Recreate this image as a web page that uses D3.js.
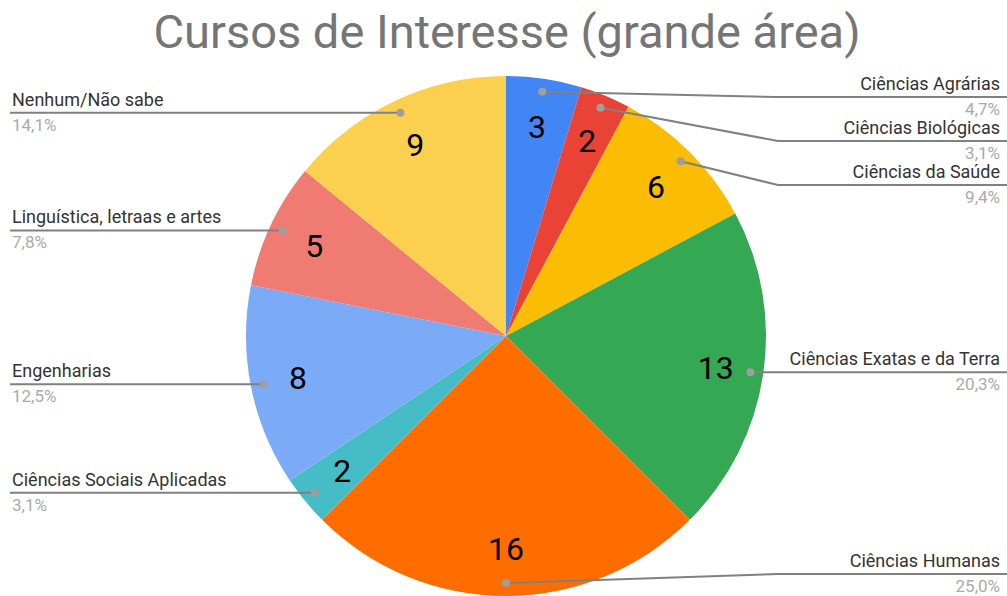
<!DOCTYPE html>
<html>
<head>
<meta charset="utf-8">
<script src="https://cdn.jsdelivr.net/npm/d3@7"></script>
<style>
  body { margin: 0; background: #fff; }
  svg { display: block; font-family: Roboto, Arial, sans-serif; }
</style>
</head>
<body>
<div id="chart"></div>
<script>
// data
var categories = ["Ciências Agrárias", "Ciências Biológicas", "Ciências da Saúde",
  "Ciências Exatas e da Terra", "Ciências Humanas", "Ciências Sociais Aplicadas",
  "Engenharias", "Linguística, letraas e artes", "Nenhum/Não sabe"];
var values = [3, 2, 6, 13, 16, 2, 8, 5, 9];
var colors = ["#4285f4", "#ea4335", "#fbbc04", "#34a853", "#ff6d01", "#46bdc6",
  "#7baaf7", "#f07b72", "#fcd04f"];

var width = 1007, height = 596;
var cx = 506, cy = 336, radius = 260;

var data = categories.map(function(c, i) { return {name: c, value: values[i]}; });
var total = d3.sum(values);
var pctFmt = function(v) { return (v / total * 100).toFixed(1).replace(".", ",") + "%"; };

var svg = d3.select("#chart").append("svg")
  .attr("width", width).attr("height", height);

svg.append("text")
  .attr("x", cx + 1).attr("y", 48)
  .attr("text-anchor", "middle")
  .style("font-size", "47px")
  .style("fill", "#757575")
  .text("Cursos de Interesse (grande área)");

var color = d3.scaleOrdinal().domain(categories).range(colors);

var pie = d3.pie().sort(null).value(function(d) { return d.value; });
var arcs = pie(data);

var arc = d3.arc().innerRadius(0).outerRadius(radius);
var dotArc = d3.arc().innerRadius(247).outerRadius(247);
var valArc = d3.arc().innerRadius(212).outerRadius(212);

var g = svg.append("g").attr("transform", "translate(" + cx + "," + cy + ")");

g.selectAll("path.slice")
  .data(arcs)
  .join("path")
  .attr("class", "slice")
  .attr("d", arc)
  .attr("fill", function(d) { return color(d.data.name); });

g.selectAll("text.val")
  .data(arcs)
  .join("text")
  .attr("class", "val")
  .attr("transform", function(d) { return "translate(" + valArc.centroid(d) + ")"; })
  .attr("text-anchor", "middle")
  .attr("dy", "0.36em")
  .style("font-size", "32px")
  .style("fill", "#000")
  .text(function(d) { return d.data.value; });

// label layout: each side stacked with a min gap
var labels = arcs.map(function(d) {
  var mid = (d.startAngle + d.endAngle) / 2;
  var p = dotArc.centroid(d);
  return {d: d, right: mid <= Math.PI, dx: p[0] + cx, dy: p[1] + cy, y: p[1] + cy};
});
var gap = 44, minY = 97, maxY = 574;
[true, false].forEach(function(side) {
  var list = labels.filter(function(l) { return l.right === side; })
    .sort(function(a, b) { return a.dy - b.dy; });
  var prev = -Infinity;
  list.forEach(function(l) {
    l.y = Math.max(l.dy, minY, prev + gap);
    prev = l.y;
  });
  var next = Infinity;
  list.slice().reverse().forEach(function(l) {
    l.y = Math.min(l.y, maxY, next - gap);
    next = l.y;
  });
});

var lab = svg.append("g").selectAll("g.lab").data(labels).join("g").attr("class", "lab");

lab.append("polyline")
  .attr("fill", "none")
  .attr("stroke", "#808080")
  .attr("stroke-width", 2)
  .attr("points", function(l) {
    var elbowX = l.right ? 778 : 234;
    var endX = l.right ? width : 10;
    return [[l.dx, l.dy], [elbowX, l.y], [endX, l.y]];
  });

lab.append("circle")
  .attr("cx", function(l) { return l.dx; })
  .attr("cy", function(l) { return l.dy; })
  .attr("r", 4)
  .attr("fill", "#9e9e9e");

lab.append("text")
  .attr("x", function(l) { return l.right ? 1000 : 12; })
  .attr("y", function(l) { return l.y - 7; })
  .attr("text-anchor", function(l) { return l.right ? "end" : "start"; })
  .style("font-size", "18px")
  .style("fill", "#333")
  .text(function(l) { return l.d.data.name; });

lab.append("text")
  .attr("x", function(l) { return l.right ? 1000 : 12; })
  .attr("y", function(l) { return l.y + 18; })
  .attr("text-anchor", function(l) { return l.right ? "end" : "start"; })
  .style("font-size", "17px")
  .style("fill", "#aaa")
  .text(function(l) { return pctFmt(l.d.data.value); });
</script>
</body>
</html>
